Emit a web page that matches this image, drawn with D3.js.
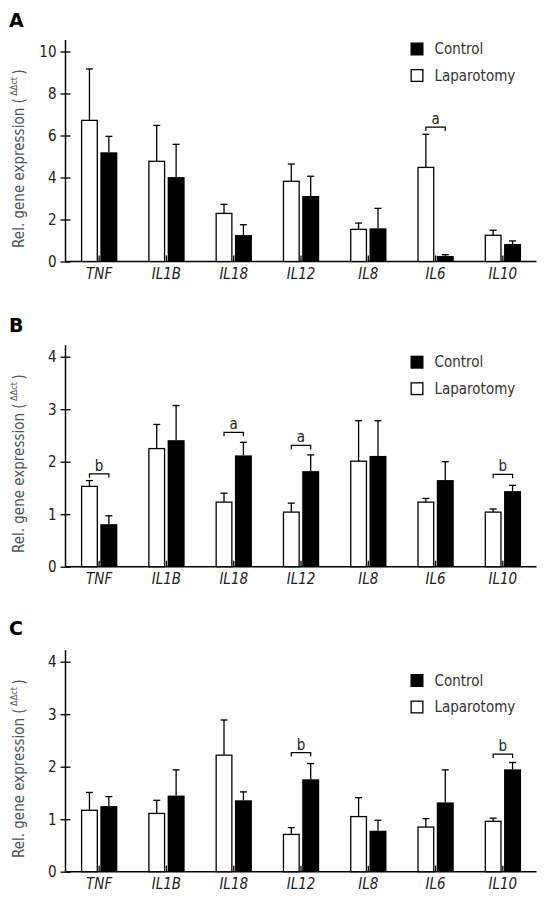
<!DOCTYPE html>
<html>
<head>
<meta charset="utf-8">
<script src="https://cdn.jsdelivr.net/npm/d3@7"></script>
<style>
  html, body { margin: 0; padding: 0; background: #fff; }
  svg { display: block; }
  text { font-family: 'DejaVu Sans Condensed', 'DejaVu Sans', sans-serif; font-stretch: condensed; }
</style>
</head>
<body>
<svg id="chart" width="548" height="902"></svg>
<script>
// ---------- data ----------
const genes = ["TNF", "IL1B", "IL18", "IL12", "IL8", "IL6", "IL10"];
const seriesNames = ["Control", "Laparotomy"];

// Panel A
const lapA     = [6.72, 4.77, 2.29, 3.82, 1.53, 4.48, 1.25];
const lapAErr  = [2.45, 1.71, 0.43, 0.82, 0.30, 1.58, 0.24];
const ctrlA    = [5.20, 4.02, 1.26, 3.12, 1.58, 0.26, 0.83];
const ctrlAErr = [0.76, 1.56, 0.49, 0.94, 0.95, 0.06, 0.15];
const ticksA   = [0, 2, 4, 6, 8, 10];
const sigA     = [{gene: "IL6", mark: "a", level: 6.40}];

// Panel B
const lapB     = [1.53, 2.25, 1.23, 1.04, 2.01, 1.23, 1.04];
const lapBErr  = [0.11, 0.46, 0.17, 0.17, 0.77, 0.07, 0.06];
const ctrlB    = [0.81, 2.41, 2.12, 1.82, 2.11, 1.65, 1.44];
const ctrlBErr = [0.16, 0.66, 0.25, 0.31, 0.67, 0.35, 0.11];
const ticksB   = [0, 1, 2, 3, 4];
const sigB     = [
  {gene: "TNF",  mark: "b", level: 1.77},
  {gene: "IL18", mark: "a", level: 2.56},
  {gene: "IL12", mark: "a", level: 2.31},
  {gene: "IL10", mark: "b", level: 1.76}
];

// Panel C
const lapC     = [1.17, 1.11, 2.22, 0.71, 1.05, 0.85, 0.96];
const lapCErr  = [0.34, 0.25, 0.67, 0.13, 0.36, 0.16, 0.06];
const ctrlC    = [1.25, 1.45, 1.36, 1.76, 0.78, 1.32, 1.95];
const ctrlCErr = [0.18, 0.49, 0.16, 0.30, 0.20, 0.62, 0.13];
const ticksC   = [0, 1, 2, 3, 4];
const sigC     = [
  {gene: "IL12", mark: "b", level: 2.27},
  {gene: "IL10", mark: "b", level: 2.24}
];

// ---------- layout ----------
const panels = [
  {label: "A", lap: lapA, lapErr: lapAErr, ctrl: ctrlA, ctrlErr: ctrlAErr, ticks: ticksA, sig: sigA,
   y0: 261.5, yMax: 51.5, labelY: 26.5, legendTop: 42.5},
  {label: "B", lap: lapB, lapErr: lapBErr, ctrl: ctrlB, ctrlErr: ctrlBErr, ticks: ticksB, sig: sigB,
   y0: 566.7, yMax: 356.7, labelY: 331.5, legendTop: 355.7},
  {label: "C", lap: lapC, lapErr: lapCErr, ctrl: ctrlC, ctrlErr: ctrlCErr, ticks: ticksC, sig: sigC,
   y0: 871.7, yMax: 661.7, labelY: 635, legendTop: 674}
];

const axisLeftX = 65.5, axisRightX = 536.5;
const barW = 17, barGap = 1.2;
const svg = d3.select("#chart");
svg.append("rect").attr("width", 548).attr("height", 902).attr("fill", "#fff");

const x = d3.scaleBand().domain(genes).range([axisLeftX, axisRightX]).paddingInner(0).paddingOuter(0);

panels.forEach(p => {
  const maxTick = d3.max(p.ticks);
  const y = d3.scaleLinear().domain([0, maxTick]).range([p.y0, p.yMax]);
  const g = svg.append("g");

  // panel letter
  g.append("text").attr("x", 9).attr("y", p.labelY)
    .attr("font-size", 19).attr("font-weight", "bold").attr("fill", "#000")
    .style("font-family", "'DejaVu Sans', sans-serif").style("font-stretch", "normal")
    .text(p.label);

  // y axis
  const yAxis = d3.axisLeft(y).tickValues(p.ticks).tickSizeInner(5).tickSizeOuter(0).tickPadding(4)
    .tickFormat(d3.format("d"));
  const ya = g.append("g").attr("transform", `translate(${axisLeftX},0)`).call(yAxis);
  ya.select(".domain").remove();
  ya.selectAll(".tick line").attr("x1", 5).attr("stroke", "#000").attr("stroke-width", 1.3);
  ya.selectAll(".tick text").attr("font-size", 15).attr("fill", "#222")
    .style("font-family", null);
  // extended axis line
  g.append("line").attr("x1", axisLeftX).attr("x2", axisLeftX)
    .attr("y1", y(0)).attr("y2", y(maxTick) - 11.5)
    .attr("stroke", "#000").attr("stroke-width", 1.5);

  // x axis
  const xAxis = d3.axisBottom(x).tickSize(0).tickPadding(5);
  const xa = g.append("g").attr("transform", `translate(0,${y(0)})`).call(xAxis);
  xa.select(".domain").remove();
  xa.selectAll(".tick text").attr("font-size", 15).attr("font-style", "italic").attr("fill", "#222")
    .attr("dy", null).attr("y", 17).style("font-family", null);
  g.append("line").attr("x1", axisLeftX).attr("x2", axisRightX)
    .attr("y1", y(0)).attr("y2", y(0)).attr("stroke", "#000").attr("stroke-width", 1.5);
  // small inward ticks at group centres
  g.selectAll(".midtick").data(genes).join("line")
    .attr("x1", d => x(d) + x.bandwidth() / 2).attr("x2", d => x(d) + x.bandwidth() / 2)
    .attr("y1", y(0)).attr("y2", y(0) - 6)
    .attr("stroke", "#000").attr("stroke-width", 1.3);

  // y title
  const ty = (y(0) + y(maxTick)) / 2 + 2;
  const title = g.append("text")
    .attr("transform", `translate(24,${ty}) rotate(-90)`)
    .attr("text-anchor", "middle").attr("font-size", 15).attr("fill", "#555");
  title.append("tspan").text("Rel. gene expression (");
  title.append("tspan").attr("font-size", 9).attr("dy", -7).text(" ΔΔct ");
  title.append("tspan").attr("dy", 7).text(")");

  const cx = d => x(d) + x.bandwidth() / 2;
  const rows = genes.map((gName, i) => ({
    gene: gName, lap: p.lap[i], lapErr: p.lapErr[i], ctrl: p.ctrl[i], ctrlErr: p.ctrlErr[i]
  }));

  const lapX = d => cx(d.gene) - barGap - barW;
  const ctrlX = d => cx(d.gene) + barGap;

  // error bars (upper only, from bar top)
  const errG = g.append("g").attr("stroke", "#000").attr("stroke-width", 1.3);
  rows.forEach(r => {
    [[lapX(r) + barW / 2, r.lap, r.lapErr], [ctrlX(r) + barW / 2, r.ctrl, r.ctrlErr]].forEach(([ex, v, e]) => {
      errG.append("line").attr("x1", ex).attr("x2", ex).attr("y1", y(v)).attr("y2", y(v + e));
      errG.append("line").attr("x1", ex - 3.5).attr("x2", ex + 3.5).attr("y1", y(v + e)).attr("y2", y(v + e));
    });
  });

  g.selectAll(".lap").data(rows).join("rect")
    .attr("x", d => lapX(d) + 0.65).attr("y", d => y(d.lap))
    .attr("width", barW - 1.3).attr("height", d => y(0) - y(d.lap))
    .attr("fill", "#fff").attr("stroke", "#000").attr("stroke-width", 1.3);
  g.selectAll(".ctrl").data(rows).join("rect")
    .attr("x", d => ctrlX(d)).attr("y", d => y(d.ctrl))
    .attr("width", barW).attr("height", d => y(0) - y(d.ctrl))
    .attr("fill", "#000");

  // significance brackets
  p.sig.forEach(s => {
    const r = rows.find(rr => rr.gene === s.gene);
    const x1 = lapX(r) + barW / 2, x2 = ctrlX(r) + barW / 2, yy = y(s.level);
    g.append("path").attr("d", `M${x1},${yy + 4}V${yy}H${x2}V${yy + 4}`)
      .attr("fill", "none").attr("stroke", "#000").attr("stroke-width", 1.2);
    g.append("text").attr("x", (x1 + x2) / 2).attr("y", yy - 3)
      .attr("text-anchor", "middle").attr("font-size", 15).attr("fill", "#222").text(s.mark);
  });

  // legend
  const lg = g.append("g");
  const lx = 410.5;
  seriesNames.forEach((name, i) => {
    const top = p.legendTop + i * 26.5;
    lg.append("rect").attr("x", lx + 0.65).attr("y", top + 0.65).attr("width", 11.7).attr("height", 11.7)
      .attr("fill", name === "Control" ? "#000" : "#fff").attr("stroke", "#000").attr("stroke-width", 1.3);
    lg.append("text").attr("x", lx + 24).attr("y", top + 11.5)
      .attr("font-size", 15).attr("fill", "#333").text(name);
  });
});
</script>
</body>
</html>
